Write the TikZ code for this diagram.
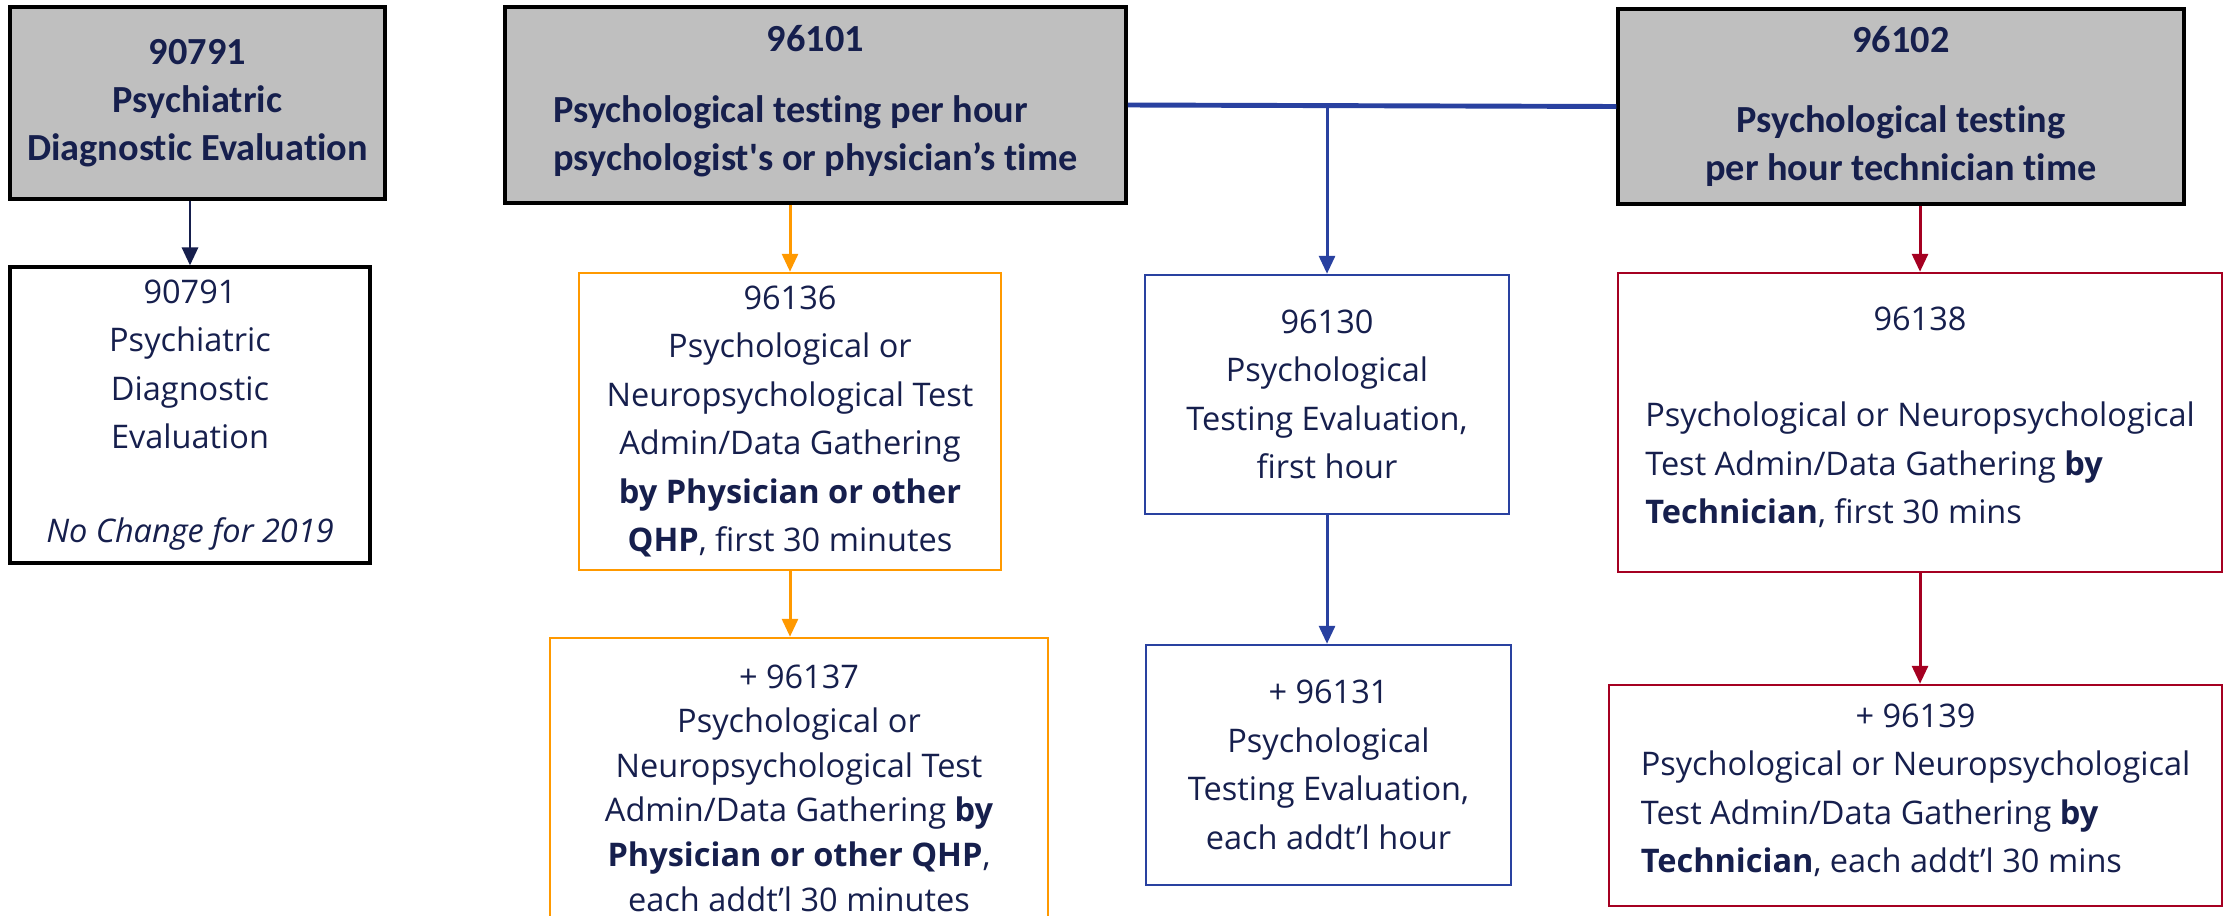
\documentclass[tikz,border=0pt]{standalone}
\usepackage{fontspec}
\setmainfont{Open Sans}
\newfontfamily\cabfont[Ligatures=NoCommon]{Carlito}
\usetikzlibrary{arrows.meta, positioning}
\usepackage{xcolor}
\definecolor{texto}{RGB}{22, 31, 77}
\definecolor{cinza}{RGB}{191, 191, 191}
\definecolor{laranja}{RGB}{255, 153, 0}
\definecolor{azul}{RGB}{41, 65, 160}
\definecolor{vermelho}{RGB}{165, 0, 33}
\tikzset{
  caixa/.style={
    draw, minimum width=3.6cm, minimum height=2.4cm, inner sep=2pt,
    align=center, text=texto, line width=0.7pt,
    font=\fontsize{9.25}{13.8}\selectfont
  },
  caixaCab/.style={caixa, fill=cinza, draw=black, line width=1pt,
    font=\cabfont\bfseries\fontsize{10.9}{13.6}\selectfont},
  caixaP/.style={caixa, draw=black, line width=0.9pt},
  caixaL/.style={caixa, draw=laranja},
  caixaA/.style={caixa, draw=azul},
  caixaV/.style={caixa, draw=vermelho},
}

\begin{document}
\begin{tikzpicture}[
    seta/.style={
        -{Triangle[length=0.18cm, width=0.16cm]},
        line width=0.85pt
    }
]
\fill[white] (0,0) rectangle (22.29,-9.15);
\useasboundingbox (0,0) rectangle (22.29,-9.15);

% Cabecalhos
\node[caixaCab, minimum width=3.75cm, minimum height=1.92cm] (diag) at (1.975,-1.03)
{90791\\Psychiatric\\Diagnostic Evaluation};

\node[caixaCab, minimum width=6.21cm, minimum height=1.96cm] (psicologo) at (8.155,-1.05)
{96101\\[6.5pt]
\begin{tabular}[t]{@{}l@{}}
Psychological testing per hour\\
psychologist\textquotesingle s or physician’s time
\end{tabular}};

\node[caixaCab, minimum width=5.66cm, minimum height=1.95cm] (tecnico) at (19.01,-1.065)
{96102\\[9pt]Psychological testing\\per hour technician time};

% Codigos
\node[caixaP, minimum width=3.6cm, minimum height=2.96cm] (diag2) at (1.90,-4.15)
{90791\\Psychiatric\\Diagnostic\\Evaluation\\[12.8pt]\textit{No Change for 2019}};

\node[caixaL, minimum width=4.22cm, minimum height=2.97cm] (adm1) at (7.90,-4.215)
{96136\\Psychological or\\Neuropsychological Test\\Admin/Data Gathering\\
\textbf{by Physician or other}\\\textbf{QHP}, first 30 minutes};

\node[caixaL, minimum width=4.98cm, minimum height=3.0cm,
    font=\fontsize{9.25}{12.7}\selectfont] (adm2) at (7.99,-7.88)
{+ 96137\\Psychological or\\Neuropsychological Test\\Admin/Data Gathering \textbf{by}\\
\textbf{Physician or other QHP},\\each addt’l 30 minutes};

\node[caixaA, minimum width=3.64cm, minimum height=2.39cm] (aval1) at (13.27,-3.945)
{96130\\Psychological\\Testing Evaluation,\\first hour};

\node[caixaA, minimum width=3.65cm, minimum height=2.40cm] (aval2) at (13.285,-7.65)
{+ 96131\\Psychological\\Testing Evaluation,\\each addt’l hour};

\node[caixaV, minimum width=6.04cm, minimum height=2.99cm] (tec1) at (19.20,-4.225)
{96138\\[13.6pt]
\begin{tabular}[t]{@{}l@{}}
Psychological or Neuropsychological\\
Test Admin/Data Gathering \textbf{by}\\
\textbf{Technician}, first 30 mins
\end{tabular}};

\node[caixaV, minimum width=6.13cm, minimum height=2.21cm] (tec2) at (19.155,-7.955)
{+ 96139\\
\begin{tabular}[t]{@{}l@{}}
Psychological or Neuropsychological\\
Test Admin/Data Gathering \textbf{by}\\
\textbf{Technician}, each addt’l 30 mins
\end{tabular}};

% Setas
\draw[seta, texto] (diag2.north |- diag.south) -- (diag2.north);
\draw[seta, laranja] (adm1.north |- psicologo.south) -- (adm1.north);
\draw[seta, laranja] (adm1.south) -- (adm1.south |- adm2.north);
\draw[azul, line width=1.4pt] (psicologo.east) -- (tecnico.west);
\draw[seta, azul] (aval1.north |- psicologo.east) -- (aval1.north);
\draw[seta, azul] (aval1.south) -- (aval1.south |- aval2.north);
\draw[seta, vermelho] (tec1.north |- tecnico.south) -- (tec1.north);
\draw[seta, vermelho] (tec1.south) -- (tec1.south |- tec2.north);

\end{tikzpicture}
\end{document}
